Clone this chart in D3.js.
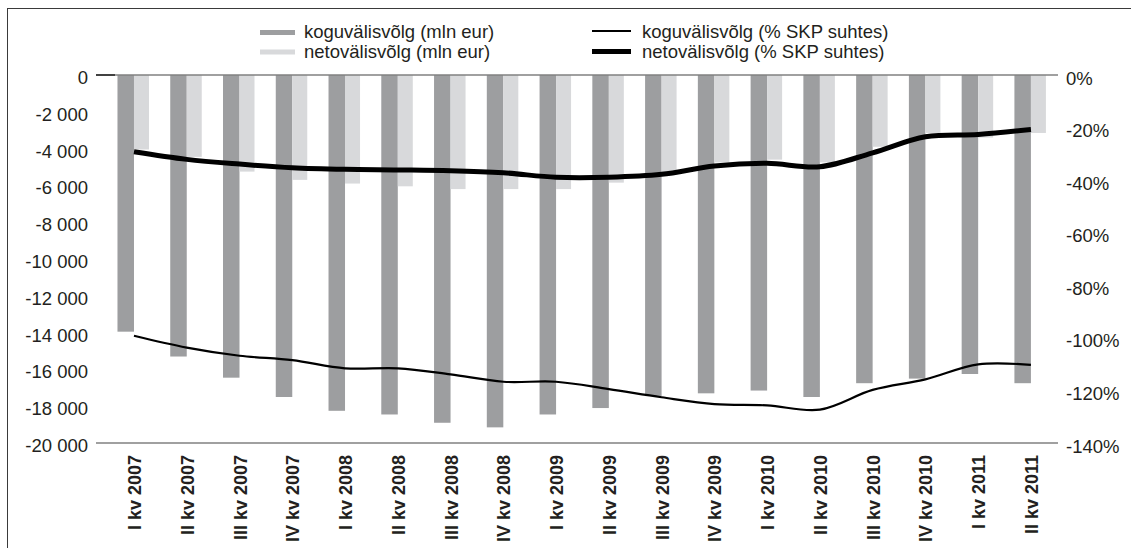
<!DOCTYPE html>
<html>
<head>
<meta charset="utf-8">
<script src="https://cdn.jsdelivr.net/npm/d3@7"></script>
<style>
  html, body { margin: 0; padding: 0; background: #fff; }
  svg { display: block; font-family: "Liberation Sans", Arial, sans-serif; }
</style>
</head>
<body>
<svg id="chart" width="1131" height="548"></svg>
<script>
// quarters on the x axis
const quarters = [
  "I kv 2007", "II kv 2007", "III kv 2007", "IV kv 2007",
  "I kv 2008", "II kv 2008", "III kv 2008", "IV kv 2008",
  "I kv 2009", "II kv 2009", "III kv 2009", "IV kv 2009",
  "I kv 2010", "II kv 2010", "III kv 2010", "IV kv 2010",
  "I kv 2011", "II kv 2011"
];

// mln eur (left axis)
const grossDebt = [-13950, -15300, -16450, -17500, -18250, -18450, -18900, -19150, -18450,
  -18100, -17450, -17300, -17150, -17500, -16750, -16500, -16250, -16750];
const netDebt = [-4050, -4450, -5250, -5700, -5900, -6050, -6200, -6200, -6200,
  -5850, -5400, -4750, -4600, -4750, -3900, -3150, -3400, -3150];

// % of GDP (right axis)
const grossPct = [-99.2, -103.7, -106.8, -108.5, -111.6, -111.6, -113.9, -116.7, -116.7,
  -119.5, -122.6, -125.2, -125.7, -127.3, -119.8, -115.8, -110.1, -110.3];
const netPct = [-29.2, -32.1, -33.9, -35.3, -35.9, -36.1, -36.4, -37.2, -38.9,
  -38.9, -37.8, -34.6, -33.6, -34.9, -29.6, -23.5, -22.6, -20.7];

const leftTicks = [0, -2000, -4000, -6000, -8000, -10000, -12000, -14000, -16000, -18000, -20000];
const rightTicks = [0, -20, -40, -60, -80, -100, -120, -140];

const legendBars = [
  { label: "koguvälisvõlg (mln eur)", color: "#9d9ea0" },
  { label: "netovälisvõlg (mln eur)", color: "#d8d9db" }
];
const legendLines = [
  { label: "koguvälisvõlg (% SKP suhtes)", width: 2.2 },
  { label: "netovälisvõlg (% SKP suhtes)", width: 5 }
];

const svg = d3.select("#chart");
const textColor = "#231f20";
const axisLeft = 96, axisRight = 1058, plotTop = 75, plotBottom = 443;

// frame
svg.append("rect")
  .attr("x", 7.5).attr("y", 8.5)
  .attr("width", 1200).attr("height", 600)
  .attr("fill", "none")
  .attr("stroke", "#3a3a3a")
  .attr("stroke-width", 1);

const x = d3.scaleBand().domain(quarters).range([107.6, 1057.3]).padding(0);
const yLeft = d3.scaleLinear().domain([-20000, 0]).range([plotBottom, plotTop]);
const yRight = d3.scaleLinear().domain([-140, 0]).range([plotBottom, plotTop]);
const center = q => x(q) + x.bandwidth() / 2;

// bars
const bars = svg.append("g");
bars.selectAll("rect.gross")
  .data(quarters)
  .join("rect")
  .attr("class", "gross")
  .attr("x", q => center(q) - 16.5)
  .attr("y", yLeft(0))
  .attr("width", 16.5)
  .attr("height", (q, i) => yLeft(grossDebt[i]) - yLeft(0))
  .attr("fill", legendBars[0].color);

bars.selectAll("rect.net")
  .data(quarters)
  .join("rect")
  .attr("class", "net")
  .attr("x", q => center(q))
  .attr("y", yLeft(0))
  .attr("width", 15)
  .attr("height", (q, i) => yLeft(netDebt[i]) - yLeft(0))
  .attr("fill", legendBars[1].color);

// axis lines
svg.append("line")
  .attr("x1", axisLeft).attr("x2", axisRight)
  .attr("y1", plotTop).attr("y2", plotTop)
  .attr("stroke", "#808080").attr("stroke-width", 1.5);
svg.append("line")
  .attr("x1", axisLeft).attr("x2", 115)
  .attr("y1", plotTop).attr("y2", plotTop)
  .attr("stroke", "#222").attr("stroke-width", 1.5);
svg.append("line")
  .attr("x1", axisLeft).attr("x2", axisRight)
  .attr("y1", plotBottom).attr("y2", plotBottom)
  .attr("stroke", "#808080").attr("stroke-width", 1.5);

// lines
const line = series => d3.line()
  .x((d, i) => center(quarters[i]))
  .y(d => yRight(d))
  .curve(d3.curveCatmullRom.alpha(0.5))(series);

svg.append("path")
  .attr("d", line(grossPct))
  .attr("fill", "none")
  .attr("stroke", "#000")
  .attr("stroke-width", 2.2);

svg.append("path")
  .attr("d", line(netPct))
  .attr("fill", "none")
  .attr("stroke", "#000")
  .attr("stroke-width", 5);

// left tick labels
svg.append("g")
  .selectAll("text")
  .data(leftTicks)
  .join("text")
  .attr("x", 88)
  .attr("y", d => yLeft(d) + 9)
  .attr("text-anchor", "end")
  .attr("font-size", 18.5)
  .attr("fill", textColor)
  .text(d => d3.format(",")(d).replace(/,/g, " ").replace("−", "-"));

// right tick labels
svg.append("g")
  .selectAll("text")
  .data(rightTicks)
  .join("text")
  .attr("x", 1066)
  .attr("y", d => yRight(d) + 9.5)
  .attr("text-anchor", "start")
  .attr("font-size", 18.5)
  .attr("fill", textColor)
  .text(d => (d < 0 ? "-" : "") + Math.abs(d) + "%");

// category labels
svg.append("g")
  .selectAll("text")
  .data(quarters)
  .join("text")
  .attr("transform", q => `translate(${center(q) + 7},455) rotate(-90)`)
  .attr("text-anchor", "end")
  .attr("font-size", 18)
  .attr("font-weight", "bold")
  .attr("fill", textColor)
  .text(q => q);

// legend
const legend = svg.append("g");
legendBars.forEach((d, i) => {
  legend.append("rect")
    .attr("x", 260).attr("y", 30 + i * 19.5)
    .attr("width", 35).attr("height", 5)
    .attr("fill", d.color);
  legend.append("text")
    .attr("x", 304).attr("y", 38 + i * 19.5)
    .attr("font-size", 18.5)
    .attr("fill", textColor)
    .text(d.label);
});
legendLines.forEach((d, i) => {
  legend.append("line")
    .attr("x1", 592).attr("x2", 631)
    .attr("y1", 31 + i * 20.5).attr("y2", 31 + i * 20.5)
    .attr("stroke", "#000")
    .attr("stroke-width", d.width);
  legend.append("text")
    .attr("x", 642).attr("y", 38 + i * 19.5)
    .attr("font-size", 18.5)
    .attr("fill", textColor)
    .text(d.label);
});
</script>
</body>
</html>
